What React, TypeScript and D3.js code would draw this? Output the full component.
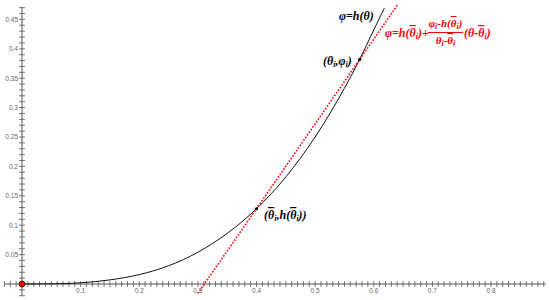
import * as d3 from "d3";

// curve phi = h(theta)
const curveTheta = [0, 0.05, 0.1, 0.15, 0.2, 0.25, 0.3, 0.35, 0.4, 0.45, 0.5, 0.55, 0.576, 0.6, 0.618];
const curvePhi = [0, 0.0003, 0.002, 0.007, 0.016, 0.031, 0.054, 0.086, 0.128, 0.182, 0.25, 0.333, 0.382, 0.432, 0.469];

// red dotted secant line
const secantTheta = [0.3, 0.64];
const secantPhi = [-0.016, 0.474];

const thetaBar = 0.4;
const hBar = 0.128;
const thetaI = 0.576;
const phiI = 0.382;

const xMajor = [0.1, 0.2, 0.3, 0.4, 0.5, 0.6, 0.7, 0.8];
const yMajor = [0.05, 0.1, 0.15, 0.2, 0.25, 0.3, 0.35, 0.4, 0.45];

const W = 550;
const H = 300;

export default function App() {
  const x = d3.scaleLinear().domain([0, 0.8]).range([22, 491]);
  const y = d3.scaleLinear().domain([0, 0.45]).range([284, 19.4]);

  const xMinor = d3.range(-3, 90).map((i) => i / 100);
  const yMinor = d3.range(-2, 48).map((i) => i / 100);

  const line = d3
    .line<number>()
    .x((d, i) => x(curveTheta[i]))
    .y((d) => y(d))
    .curve(d3.curveMonotoneX);

  const axisColor = "#555";
  const fmt = (v: number) => String(+v.toFixed(2));
  const serif = "'Liberation Serif', 'Times New Roman', serif";

  // subscript i, back up to baseline afterwards via next tspan
  const sub = (t: string) => (
    <tspan fontSize={8} dy={2}>
      {t}
    </tspan>
  );
  // theta with an overbar
  const tbar = (dy = 0) => (
    <tspan dy={dy} style={{ textDecoration: "overline" }}>
      θ
    </tspan>
  );

  return (
    <svg
      width={W}
      height={H}
      style={{ position: "absolute", left: 0, top: 0, background: "#fff" }}
    >
      {/* axes */}
      <line x1={x(-0.03)} x2={x(0.893)} y1={y(0)} y2={y(0)} stroke={axisColor} strokeWidth={1} />
      <line x1={x(0)} x2={x(0)} y1={y(-0.02)} y2={y(0.471)} stroke={axisColor} strokeWidth={1} />
      {xMinor.map((v, i) => (
        <line key={"xm" + i} x1={x(v)} x2={x(v)} y1={y(0) - 3} y2={y(0) + 3} stroke={axisColor} strokeWidth={0.8} />
      ))}
      {yMinor.map((v, i) => (
        <line key={"ym" + i} x1={x(0) - 3} x2={x(0) + 3} y1={y(v)} y2={y(v)} stroke={axisColor} strokeWidth={0.8} />
      ))}
      {xMajor.map((v) => (
        <text key={"xl" + v} x={x(v)} y={y(0) + 9} textAnchor="middle" fontSize={6.5} fill="#666" fontFamily="'Liberation Sans', Arial, sans-serif">
          {fmt(v)}
        </text>
      ))}
      {yMajor.map((v) => (
        <text key={"yl" + v} x={x(0) - 4} y={y(v) + 2.3} textAnchor="end" fontSize={6.5} fill="#666" fontFamily="'Liberation Sans', Arial, sans-serif">
          {fmt(v)}
        </text>
      ))}

      {/* curve */}
      <path d={line(curvePhi) ?? ""} fill="none" stroke="#111" strokeWidth={1} />

      {/* secant */}
      <line
        x1={x(secantTheta[0])}
        y1={y(secantPhi[0])}
        x2={x(secantTheta[1])}
        y2={y(secantPhi[1])}
        stroke="#f00"
        strokeWidth={1.6}
        strokeDasharray="1.6,1.6"
      />

      {/* points */}
      <circle cx={x(thetaBar)} cy={y(hBar)} r={1.6} fill="#000" />
      <circle cx={x(thetaI)} cy={y(phiI)} r={1.6} fill="#000" />
      <circle cx={x(0)} cy={y(0)} r={3} fill="#e00" stroke="#400" strokeWidth={0.8} />

      {/* labels */}
      <g fontFamily={serif} fontWeight="bold" fontStyle="italic" fontSize={12} fill="#000">
        <text x={339} y={20}>φ=h(θ)</text>
        <text x={323} y={65}>
          (θ{sub("i")}<tspan dy={-2}>,φ</tspan>{sub("i")}<tspan dy={-2}>)</tspan>
        </text>
        <text x={264} y={219}>
          ({tbar()}{sub("i")}<tspan dy={-2}>,h(</tspan>{tbar()}{sub("i")}<tspan dy={-2}>))</tspan>
        </text>
      </g>
      <g fontFamily={serif} fontWeight="bold" fontStyle="italic" fontSize={12} fill="#f00">
        <text x={385} y={37}>
          φ=h({tbar()}{sub("i")}<tspan dy={-2}>)+</tspan>
        </text>
        <text x={445.5} y={27} textAnchor="middle" fontSize={11}>
          φ{sub("i")}<tspan dy={-2}>-h(</tspan>{tbar()}{sub("i")}<tspan dy={-2}>)</tspan>
        </text>
        <line x1={428} x2={463} y1={32.5} y2={32.5} stroke="#f00" strokeWidth={1} />
        <text x={445.5} y={44} textAnchor="middle" fontSize={11}>
          θ{sub("i")}<tspan dy={-2}>-</tspan>{tbar()}{sub("i")}
        </text>
        <text x={464} y={37}>
          (θ-{tbar()}{sub("i")}<tspan dy={-2}>)</tspan>
        </text>
      </g>
    </svg>
  );
}
